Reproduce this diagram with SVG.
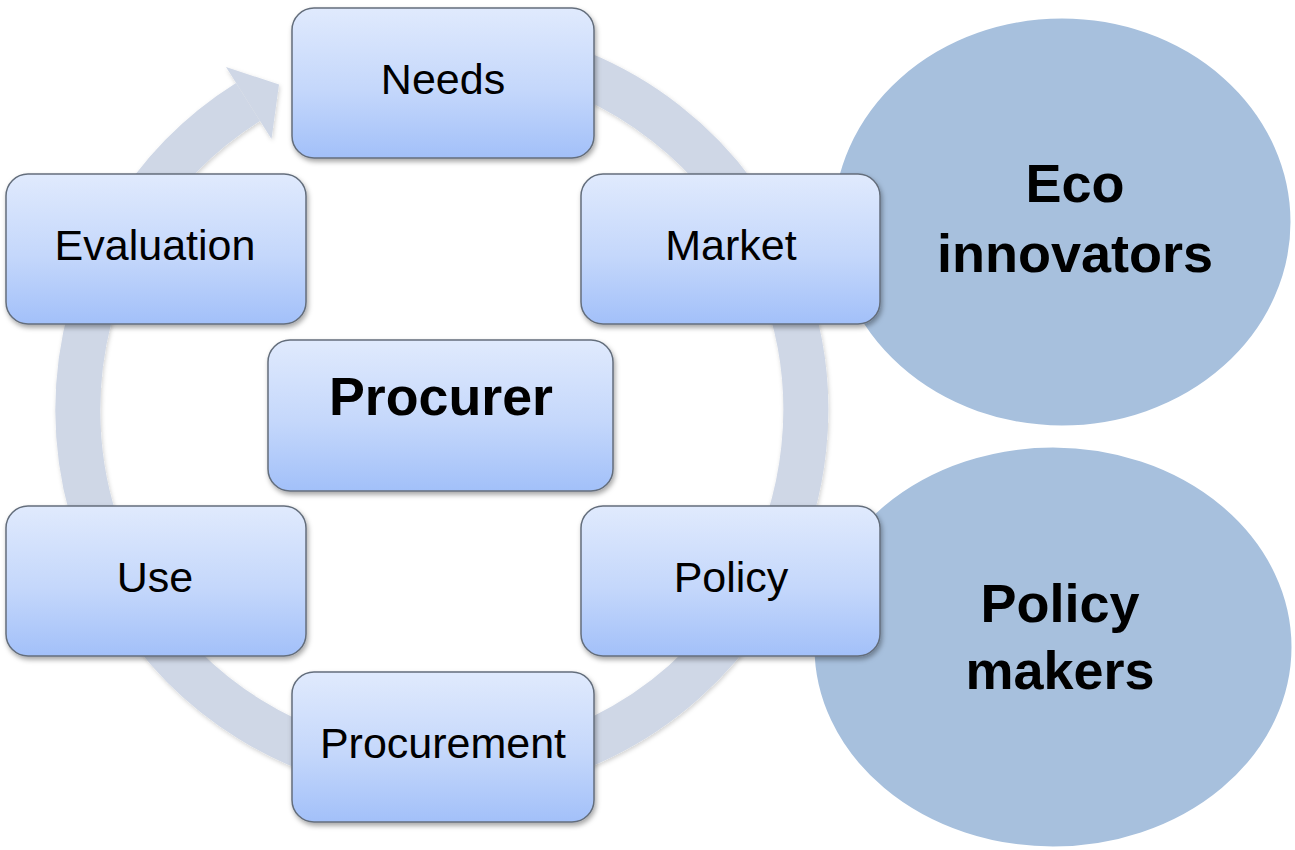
<svg xmlns="http://www.w3.org/2000/svg" width="1295" height="850" viewBox="0 0 1295 850">
  <defs>
    <linearGradient id="boxGrad" x1="0" y1="0" x2="0" y2="1">
      <stop offset="0" stop-color="#e0eafd"/>
      <stop offset="0.55" stop-color="#c4d7fb"/>
      <stop offset="1" stop-color="#a2c0f9"/>
    </linearGradient>
    <filter id="shadow" x="-10%" y="-10%" width="125%" height="130%">
      <feDropShadow dx="1.5" dy="3" stdDeviation="2.5" flood-color="#000" flood-opacity="0.35"/>
    </filter>
    <filter id="ringShadow" x="-10%" y="-10%" width="120%" height="120%">
      <feDropShadow dx="1" dy="2" stdDeviation="2" flood-color="#000" flood-opacity="0.18"/>
    </filter>
  </defs>
  <style>
    .box { fill: url(#boxGrad); stroke: #646e7c; stroke-width: 1.5; filter: url(#shadow); }
    .lbl { font-family: "Liberation Sans", Arial, sans-serif; font-size: 43px; fill: #000; text-anchor: middle; }
    .big { font-family: "Liberation Sans", Arial, sans-serif; font-size: 54px; font-weight: bold; fill: #000; text-anchor: middle; }
    .actor { fill: #a7c0dd; stroke: #ffffff; stroke-width: 3; }
    .ring { fill: none; stroke: #cfd7e6; stroke-width: 45; }
    .head { fill: #cfd7e6; }
  </style>
  <rect x="0" y="0" width="1295" height="850" fill="#ffffff"/>

  <g id="eco-innovators">
    <ellipse class="actor" cx="1062" cy="222" rx="230" ry="205"/>
    <text class="big" x="1075" y="202">Eco</text>
    <text class="big" x="1075" y="272">innovators</text>
  </g>
  <g id="policy-makers">
    <ellipse class="actor" cx="1053" cy="647" rx="240" ry="201"/>
    <text class="big" x="1060" y="622">Policy</text>
    <text class="big" x="1060" y="689">makers</text>
  </g>

  <g id="connectors" filter="url(#ringShadow)">
    <path class="ring" d="M 317.5 68 A 364 364 0 1 1 248 102"/>
    <polygon class="head" points="226,67 279,84.5 271.5,139"/>
  </g>

  <g id="needs">
    <rect class="box" x="292" y="8" width="302" height="150" rx="22"/>
    <text class="lbl" x="443" y="94">Needs</text>
  </g>
  <g id="evaluation">
    <rect class="box" x="6" y="174" width="300" height="150" rx="22"/>
    <text class="lbl" x="155" y="260">Evaluation</text>
  </g>
  <g id="market">
    <rect class="box" x="581" y="174" width="299" height="150" rx="22"/>
    <text class="lbl" x="731" y="260">Market</text>
  </g>
  <g id="procurer">
    <rect class="box" x="268" y="340" width="345" height="151" rx="22"/>
    <text class="big" x="441" y="415" font-size="58" textLength="224" lengthAdjust="spacingAndGlyphs">Procurer</text>
  </g>
  <g id="use">
    <rect class="box" x="6" y="506" width="300" height="150" rx="22"/>
    <text class="lbl" x="155" y="592">Use</text>
  </g>
  <g id="policy">
    <rect class="box" x="581" y="506" width="299" height="150" rx="22"/>
    <text class="lbl" x="731" y="592">Policy</text>
  </g>
  <g id="procurement">
    <rect class="box" x="292" y="672" width="302" height="150" rx="22"/>
    <text class="lbl" x="443" y="758">Procurement</text>
  </g>
</svg>
